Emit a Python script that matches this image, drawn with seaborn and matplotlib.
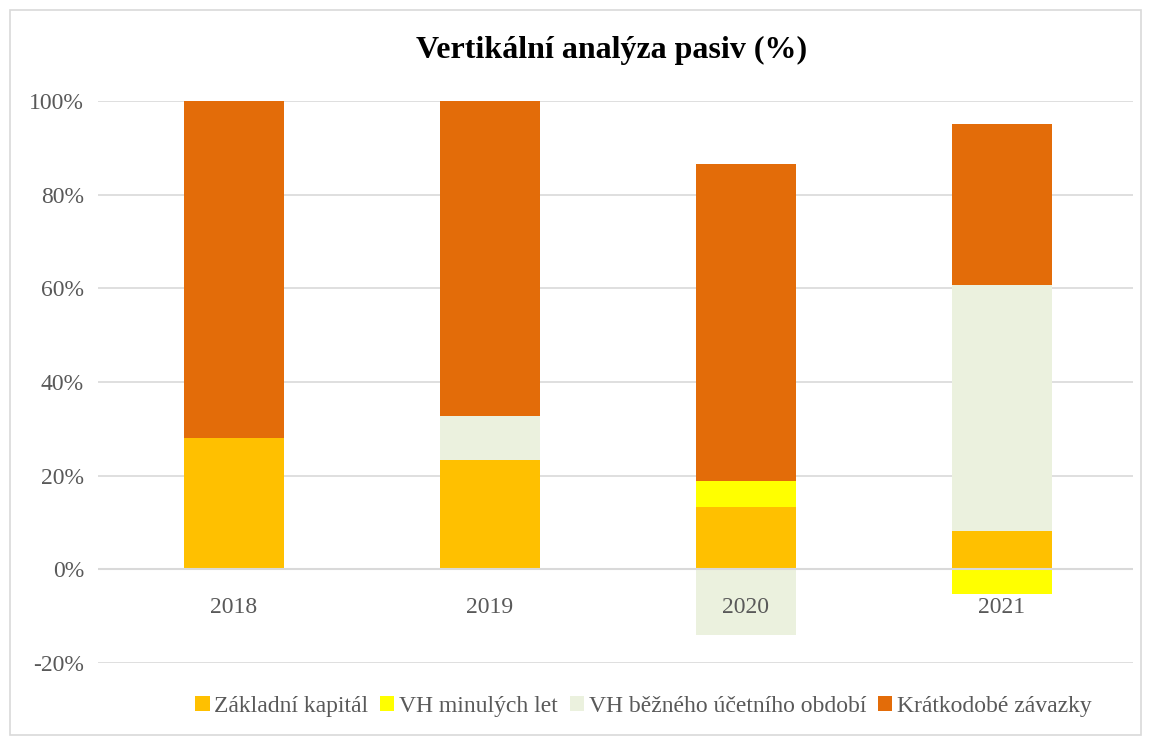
import pandas as pd
import matplotlib
matplotlib.use('Agg')
import matplotlib.pyplot as plt
import seaborn as sns
from matplotlib.patches import Patch, Rectangle
from matplotlib.ticker import PercentFormatter

# Data (% of total liabilities)
roky = ['2018', '2019', '2020', '2021']
zakladni_kapital = [28.0, 23.3, 13.2, 8.1]
vh_minulych_let = [0.0, 0.0, 5.6, -5.3]
vh_bezneho_obdobi = [0.0, 9.4, -14.1, 52.6]
kratkodobe_zavazky = [72.0, 67.3, 67.7, 34.4]

serie = ['Základní kapitál', 'VH minulých let', 'VH běžného účetního období', 'Krátkodobé závazky']
barvy = ['#FFC000', '#FFFF00', '#EBF1DE', '#E36C09']

df = pd.DataFrame({'rok': roky,
                   serie[0]: zakladni_kapital,
                   serie[1]: vh_minulych_let,
                   serie[2]: vh_bezneho_obdobi,
                   serie[3]: kratkodobe_zavazky})

# stacked like Excel: positives above zero, negatives below
pos = df[serie].clip(lower=0).cumsum(axis=1)
neg = df[serie].clip(upper=0).cumsum(axis=1)
kum = pos.where(df[serie] >= 0, neg)

sns.set_style('white')
plt.rcParams['font.family'] = ['Liberation Serif', 'DejaVu Serif']
plt.rcParams['axes.unicode_minus'] = False

fig = plt.figure(figsize=(11.51, 7.44), dpi=100)
ax = fig.add_axes([0.085, 0.109, 0.899, 0.755])

# draw from the last series back so the earlier ones paint over
for s, c in reversed(list(zip(serie, barvy))):
    sns.barplot(x=df['rok'], y=kum[s], color=c, saturation=1, width=0.39,
                linewidth=0, edgecolor='none', ax=ax, zorder=2)

ax.set_ylim(-20, 100)
ax.set_xlim(-0.53, 3.51)
ax.set_yticks([-20, 0, 20, 40, 60, 80, 100])
ax.yaxis.set_major_formatter(PercentFormatter(decimals=0))
ax.grid(axis='y', color='#D9D9D9', linewidth=1.2)
ax.grid(axis='x', visible=False)
ax.set_axisbelow(True)
ax.xaxis.set_zorder(5)
ax.axhline(0, color='#D9D9D9', linewidth=1.5, zorder=3)
for sp in ax.spines.values():
    sp.set_visible(False)
ax.set_xlabel('')
ax.set_ylabel('')
ax.tick_params(axis='both', length=0, labelsize=17, labelcolor='#595959')
ax.tick_params(axis='x', pad=20)
ax.tick_params(axis='y', pad=10)
ax.spines['bottom'].set_position(('data', 0))

fig.suptitle('Vertikální analýza pasiv (%)', x=0.531, y=0.952, fontsize=23,
             fontweight='bold', color='black')

handles = [Patch(facecolor=c, edgecolor='none') for c in barvy]
fig.legend(handles, serie, loc='center', bbox_to_anchor=(0.559, 0.051), ncol=4,
           frameon=False, fontsize=17, labelcolor='#595959', handlelength=0.6,
           handleheight=0.6, handletextpad=0.2, columnspacing=0.5)

fig.patches.append(Rectangle((0.009, 0.012), 0.982, 0.975, transform=fig.transFigure,
                             fill=False, edgecolor='#D9D9D9', linewidth=1.2))

plt.savefig('out.png', dpi=100)
